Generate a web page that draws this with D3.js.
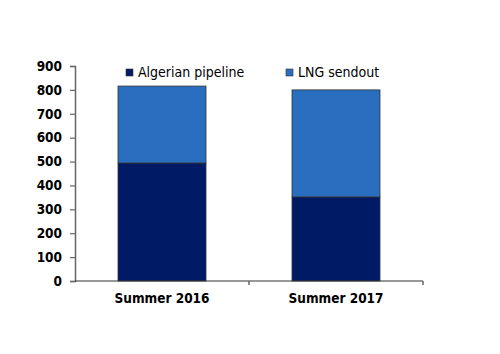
<!DOCTYPE html>
<html>
<head>
<meta charset="utf-8">
<script src="https://cdn.jsdelivr.net/npm/d3@7"></script>
<style>
  body { margin: 0; background: #fff; }
  text { font-family: "DejaVu Sans Condensed", "DejaVu Sans", sans-serif; }
</style>
</head>
<body>
<svg id="chart" width="500" height="354"></svg>
<script>
const categories = ["Summer 2016", "Summer 2017"];
const seriesNames = ["Algerian pipeline", "LNG sendout"];
const pipeline = [494, 352];
const lng = [322, 448];
const yTicks = [0, 100, 200, 300, 400, 500, 600, 700, 800, 900];
const colors = ["#001a66", "#2a6ebf"];

const svg = d3.select("#chart");
const mLeft = 75, mRight = 423, mTop = 66, mBottom = 281;

const x = d3.scaleBand().domain(categories).range([mLeft, mRight]).paddingInner(0).paddingOuter(0);
const y = d3.scaleLinear().domain([0, 900]).range([mBottom, mTop]);

const rows = categories.map((c, i) => ({ cat: c, pipeline: pipeline[i], lng: lng[i] }));
const stack = d3.stack().keys(["pipeline", "lng"])(rows);

const barW = 88;
svg.append("g")
  .selectAll("g")
  .data(stack)
  .enter()
  .append("g")
  .attr("fill", (d, i) => colors[i])
  .selectAll("rect")
  .data(d => d)
  .enter()
  .append("rect")
  .attr("x", d => x(d.data.cat) + x.bandwidth() / 2 - barW / 2)
  .attr("width", barW)
  .attr("y", d => y(d[1]))
  .attr("height", d => y(d[0]) - y(d[1]))
  .attr("stroke", "#333")
  .attr("stroke-width", 0.8);

// y axis
const yAxis = svg.append("g")
  .attr("transform", `translate(${mLeft},0)`)
  .call(d3.axisLeft(y).tickValues(yTicks).tickSize(5).tickPadding(8));
yAxis.select(".domain").attr("stroke", "#666").attr("stroke-width", 1.5);
yAxis.selectAll(".tick line").attr("stroke", "#666").attr("stroke-width", 1.2);
yAxis.selectAll("text")
  .attr("font-size", 13.5)
  .attr("font-weight", "bold")
  .attr("fill", "#000");

// x axis: ticks at band edges
const xAxis = svg.append("g").attr("transform", `translate(0,${mBottom})`);
xAxis.append("line")
  .attr("x1", mLeft).attr("x2", mRight)
  .attr("stroke", "#333").attr("stroke-width", 1.2);
xAxis.selectAll(".edge")
  .data(categories.slice(1).map(c => x(c)).concat([mRight]))
  .enter()
  .append("line")
  .attr("x1", d => d).attr("x2", d => d)
  .attr("y1", 0).attr("y2", 4)
  .attr("stroke", "#666").attr("stroke-width", 1.5);
xAxis.selectAll(".lbl")
  .data(categories)
  .enter()
  .append("text")
  .attr("x", d => x(d) + x.bandwidth() / 2)
  .attr("y", 22)
  .attr("text-anchor", "middle")
  .attr("font-size", 13.5)
  .attr("font-weight", "bold")
  .text(d => d);

// legend
const legendX = [126, 286];
const legend = svg.append("g")
  .selectAll("g")
  .data(seriesNames)
  .enter()
  .append("g")
  .attr("transform", (d, i) => `translate(${legendX[i]},69)`);
legend.append("rect")
  .attr("width", 7).attr("height", 7)
  .attr("fill", (d, i) => colors[i])
  .attr("stroke", "#333").attr("stroke-width", 0.6);
legend.append("text")
  .attr("x", 12).attr("y", 8)
  .attr("font-size", 14)
  .text(d => d);
</script>
</body>
</html>
